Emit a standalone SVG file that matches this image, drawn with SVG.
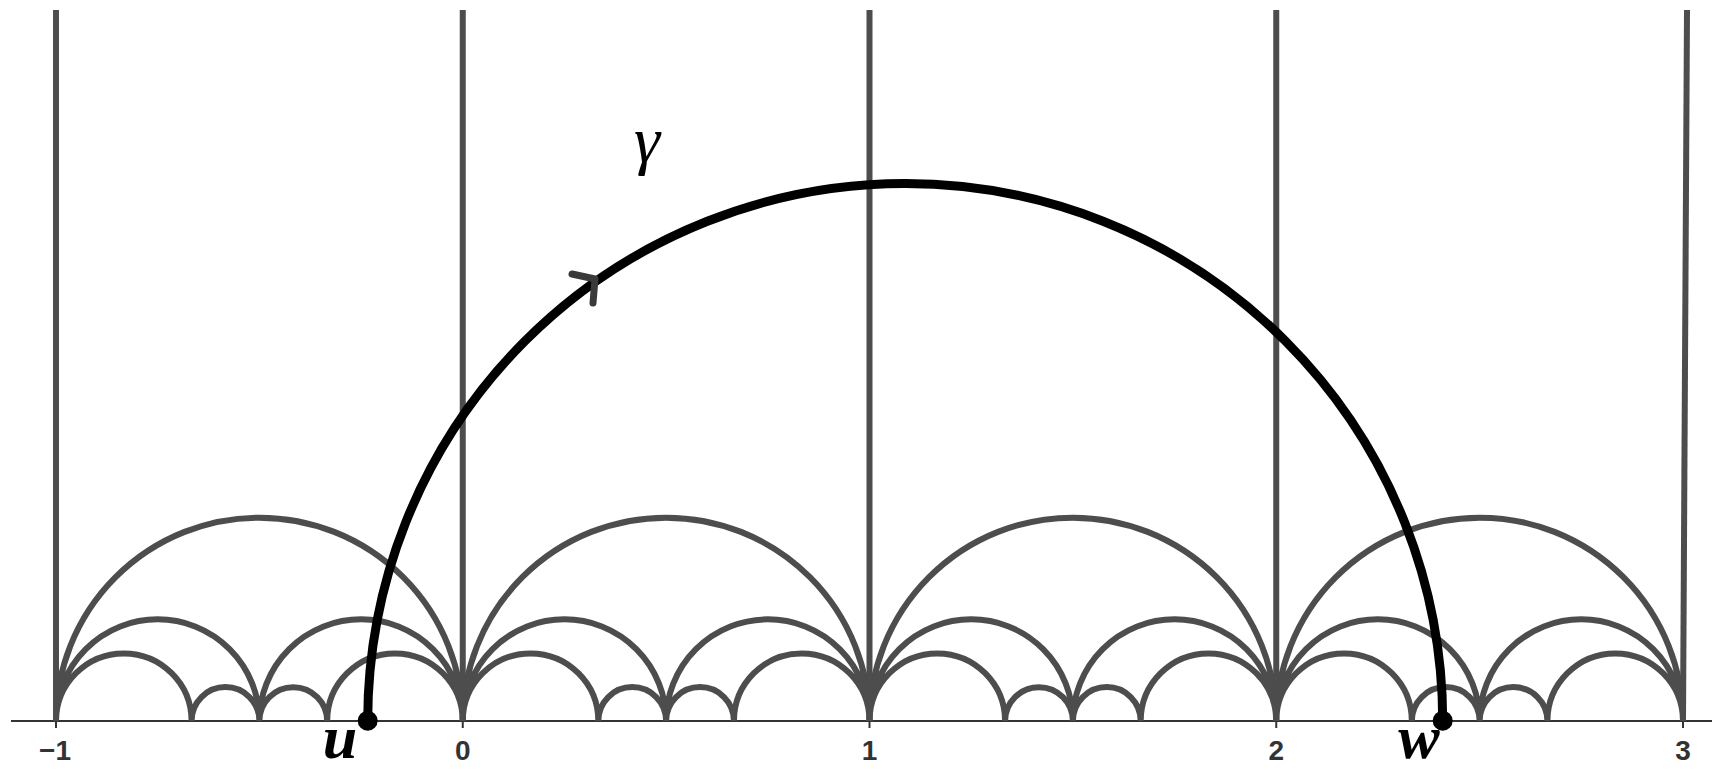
<svg xmlns="http://www.w3.org/2000/svg" width="1721" height="772" viewBox="0 0 1721 772">
<style>
.arc{fill:none;stroke:#4d4d4d;stroke-width:6}
.vl{fill:none;stroke:#4d4d4d;stroke-width:6}
.tick{font-family:"Liberation Sans",Arial,sans-serif;font-weight:bold;font-size:28px;fill:#333;text-anchor:middle}
.pt{font-family:"Liberation Serif","Times New Roman",serif;font-style:italic;font-weight:bold;font-size:62px;fill:#000;text-anchor:middle}
</style>
<rect width="1721" height="772" fill="#fff"/>
<g id="axis">
<line x1="11" y1="721" x2="1712" y2="721" stroke="#333" stroke-width="2"/>
<g stroke="#333" stroke-width="2">
<line x1="56" y1="721" x2="56" y2="728"/>
<line x1="462.75" y1="721" x2="462.75" y2="728"/>
<line x1="869.5" y1="721" x2="869.5" y2="728"/>
<line x1="1276.25" y1="721" x2="1276.25" y2="728"/>
<line x1="1683" y1="721" x2="1683" y2="728"/>
</g>
<text class="tick" x="55" y="760">−1</text>
<text class="tick" x="462.75" y="760">0</text>
<text class="tick" x="869.5" y="760">1</text>
<text class="tick" x="1276.25" y="760">2</text>
<text class="tick" x="1683" y="760">3</text>
</g>
<g id="farey-arcs">
<path class="arc" d="M56 721A203.375 203.375 0 0 1 462.75 721M56 721A101.6875 101.6875 0 0 1 259.375 721M259.375 721A101.6875 101.6875 0 0 1 462.75 721M56 721A67.792 67.792 0 0 1 191.583 721M191.583 721A33.896 33.896 0 0 1 259.375 721M259.375 721A33.896 33.896 0 0 1 327.167 721M327.167 721A67.792 67.792 0 0 1 462.75 721"/>
<path class="arc" d="M462.75 721A203.375 203.375 0 0 1 869.5 721M462.75 721A101.6875 101.6875 0 0 1 666.125 721M666.125 721A101.6875 101.6875 0 0 1 869.5 721M462.75 721A67.792 67.792 0 0 1 598.333 721M598.333 721A33.896 33.896 0 0 1 666.125 721M666.125 721A33.896 33.896 0 0 1 733.917 721M733.917 721A67.792 67.792 0 0 1 869.5 721"/>
<path class="arc" d="M869.5 721A203.375 203.375 0 0 1 1276.25 721M869.5 721A101.6875 101.6875 0 0 1 1072.875 721M1072.875 721A101.6875 101.6875 0 0 1 1276.25 721M869.5 721A67.792 67.792 0 0 1 1005.083 721M1005.083 721A33.896 33.896 0 0 1 1072.875 721M1072.875 721A33.896 33.896 0 0 1 1140.667 721M1140.667 721A67.792 67.792 0 0 1 1276.25 721"/>
<path class="arc" d="M1276.25 721A203.375 203.375 0 0 1 1683 721M1276.25 721A101.6875 101.6875 0 0 1 1479.625 721M1479.625 721A101.6875 101.6875 0 0 1 1683 721M1276.25 721A67.792 67.792 0 0 1 1411.833 721M1411.833 721A33.896 33.896 0 0 1 1479.625 721M1479.625 721A33.896 33.896 0 0 1 1547.417 721M1547.417 721A67.792 67.792 0 0 1 1683 721"/>
</g>
<g id="verticals">
<line class="vl" x1="56" y1="10" x2="56" y2="721"/>
<line class="vl" x1="462.75" y1="10" x2="462.75" y2="721"/>
<line class="vl" x1="869.5" y1="10" x2="869.5" y2="721"/>
<line class="vl" x1="1276.25" y1="10" x2="1276.25" y2="721"/>
<line class="vl" x1="1687" y1="10" x2="1683" y2="721"/>
</g>
<g id="gamma">
<path d="M367.7 721A537.5 537.5 0 0 1 1442.7 721" fill="none" stroke="#000" stroke-width="9"/>
<polyline points="572,274 595,279 593,303" fill="none" stroke="#3a3a3a" stroke-width="7" stroke-linecap="round" stroke-linejoin="round"/>
<text x="647" y="162" font-family="Liberation Serif,'Times New Roman',serif" font-style="italic" font-size="66" fill="#000" text-anchor="middle">γ</text>
</g>
<g id="point-u">
<circle cx="367.7" cy="720.7" r="10" fill="#000"/>
<text class="pt" x="340" y="758">u</text>
</g>
<g id="point-w">
<circle cx="1442.7" cy="720.7" r="10" fill="#000"/>
<text class="pt" x="1419" y="758">w</text>
</g>
</svg>
